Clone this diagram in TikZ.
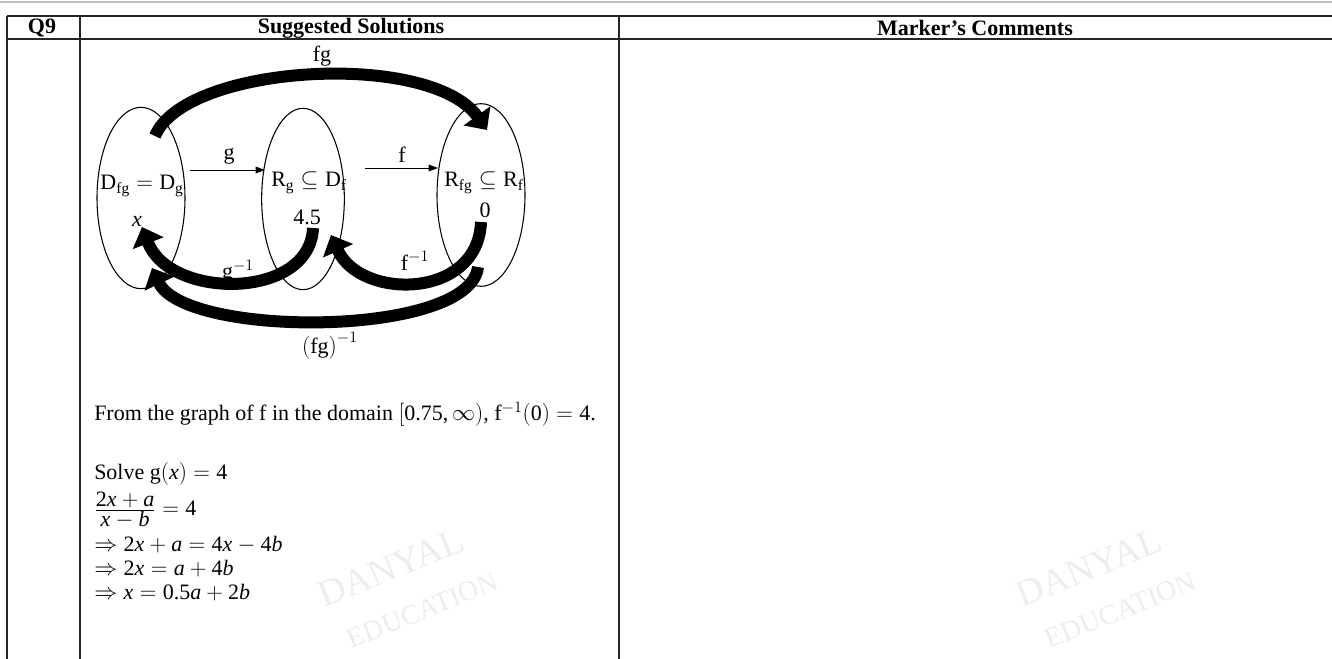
\documentclass[tikz,border=0pt]{standalone}
\usepackage{fontspec}
\setmainfont{Liberation Serif}
\usetikzlibrary{shapes.geometric,arrows.meta}
\newcommand{\tn}[1]{\mbox{#1}}
\begin{document}
\begin{tikzpicture}[x=0.75pt,y=-0.75pt,
  txt/.style={font=\fontsize{16.5}{19}\selectfont, inner sep=0pt},
  body/.style={font=\fontsize{16.5}{19}\selectfont, inner sep=0pt, anchor=west},
  hdr/.style={font=\fontsize{16.5}{19}\selectfont\bfseries, inner sep=0pt},
  setov/.style={draw, ellipse, line width=0.8pt, inner sep=0pt},
  thinarrow/.style={-{Triangle[length=7pt,width=5pt]}, line width=0.7pt},
  fatarrow/.style={-{Triangle[length=13pt,width=24pt]}, line width=9pt},
  tablerule/.style={line width=0.9pt, black!85},
  wm/.style={text=black!7, rotate=22, inner sep=0pt, align=center, font=\fontsize{28}{30}\selectfont}
]
\useasboundingbox (0,0) rectangle (1332,659);
% table
\draw[black!25, line width=0.8pt] (0,2) -- (1332,2);
\draw[tablerule] (7,16) -- (1332,16);
\draw[tablerule] (7,39) -- (1332,39);
\draw[tablerule] (7,16) -- (7,659);
\draw[tablerule] (80,16) -- (80,659);
\draw[tablerule] (619,16) -- (619,659);
\node[hdr] (hq) at (42,28) {Q9};
\node[hdr] (hs) at (351,28) {Suggested Solutions};
\node[hdr] (hm) at (975,28) {Marker’s Comments};
% watermarks
\node[wm] (wa) at (400,590) {DANYAL\\[6pt]{\fontsize{21}{24}\selectfont\hspace*{20pt}EDUCATION}};
\node[wm] (wb) at (1098,590) {DANYAL\\[6pt]{\fontsize{21}{24}\selectfont\hspace*{20pt}EDUCATION}};
% sets
\node[setov, minimum width=66pt, minimum height=136pt] (A) at (141,198) {};
\node[setov, minimum width=62pt, minimum height=136pt] (B) at (303,199) {};
\node[setov, minimum width=66pt, minimum height=137pt] (C) at (481,195) {};
\node[txt] (At) at (142,186) {$\mathrm{D_{fg}}=\mathrm{D_g}$};
\node[txt] (Bt) at (309,183) {$\mathrm{R_g}\subseteq\mathrm{D_f}$};
\node[txt] (Ct) at (484,183) {$\mathrm{R_{fg}}\subseteq\mathrm{R_f}$};
\node[txt] (Ax) at (137,221) {$\mathit{x}$};
\node[txt] (Bx) at (307,217) {4.5};
\node[txt] (Cx) at (485,210) {0};
% thin arrows
\coordinate (g1) at (190,170);
\coordinate (g2) at (265,170);
\coordinate (f1) at (365,168);
\coordinate (f2) at (438,168);
\draw[thinarrow] (g1) -- (g2);
\draw[thinarrow] (f1) -- (f2);
\node[txt] (gl) at (229,156) {g};
\node[txt] (fl) at (402,155) {f};
% thick arrows
\coordinate (fgs) at (155,136);
\coordinate (fge) at (487,130);
\draw[fatarrow] (fgs) .. controls (185,64) and (430,50) .. (fge);
\node[txt] (fgl) at (322,56) {fg};
\coordinate (gis) at (313,228);
\coordinate (gie) at (142,227);
\draw[fatarrow] (gis) .. controls (310,300) and (170,300) .. (gie);
\node[txt] (gil) at (238,272) {$\mathrm{g}^{-1}$};
\coordinate (fis) at (481,222);
\coordinate (fie) at (331,235);
\draw[fatarrow] (fis) .. controls (478,300) and (360,300) .. (fie);
\node[txt] (fil) at (415,261) {$\mathrm{f}^{-1}$};
\coordinate (fgis) at (478,267);
\coordinate (fgie) at (152,268);
\draw[fatarrow] (fgis) .. controls (470,338) and (185,338) .. (fgie);
\node[txt] (fgil) at (330,346) {$\bigl(\mathrm{fg}\bigr)^{-1}$};
% solution text
\node[body] (l1) at (94,414) {From the graph of f in the domain $\bigl[\tn{0.75,}\,\infty\bigr)$, $\mathrm{f}^{-1}\bigl(\tn{0}\bigr)=\tn{4}$.};
\node[body] (l2) at (94,474) {Solve $\mathrm{g}\bigl(\mathit{x}\bigr)=\tn{4}$};
\node[body] (l3) at (94,510) {$\frac{\displaystyle \tn{2}\mathit{x}+\mathit{a}}{\displaystyle \mathit{x}-\mathit{b}}=\tn{4}$};
\node[body] (l4) at (94,545) {$\Rightarrow \tn{2}\mathit{x}+\mathit{a}=\tn{4}\mathit{x}-\tn{4}\mathit{b}$};
\node[body] (l5) at (94,569) {$\Rightarrow \tn{2}\mathit{x}=\mathit{a}+\tn{4}\mathit{b}$};
\node[body] (l6) at (94,593) {$\Rightarrow \mathit{x}=\tn{0.5}\mathit{a}+\tn{2}\mathit{b}$};
\end{tikzpicture}
\end{document}
